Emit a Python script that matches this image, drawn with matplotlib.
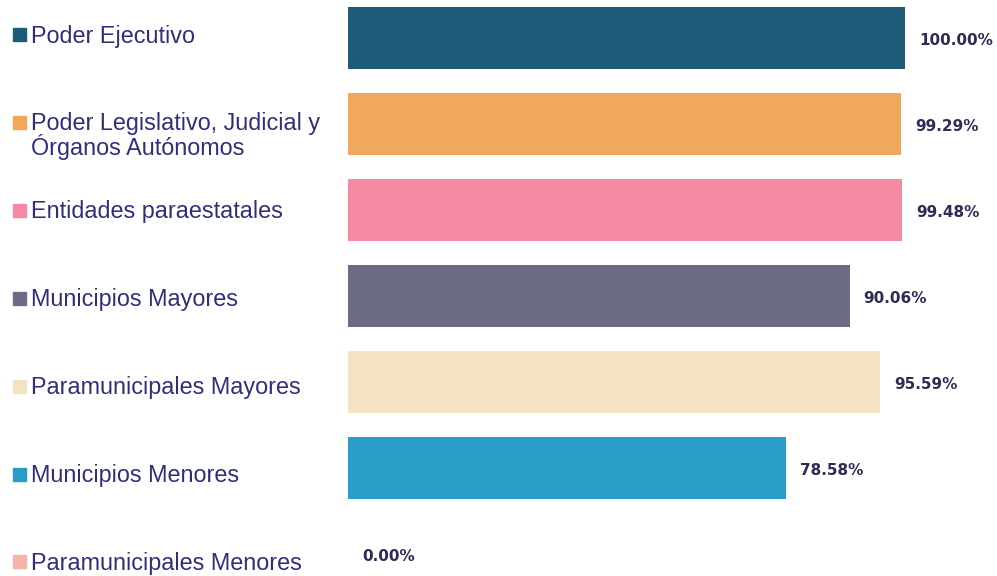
import matplotlib.pyplot as plt

# === Data
categories = [
    "Poder Ejecutivo",
    "Poder Legislativo, Judicial y\nÓrganos Autónomos",
    "Entidades paraestatales",
    "Municipios Mayores",
    "Paramunicipales Mayores",
    "Municipios Menores",
    "Paramunicipales Menores",
]
values = [100.00, 99.29, 99.48, 90.06, 95.59, 78.58, 0.00]
colors = ["#1d5b78", "#f0a85c", "#f48aa3", "#6d6c87", "#f4e2c2", "#2a9dc6", "#f5b2ab"]

W, H = 997, 576
fig = plt.figure(figsize=(W / 100, H / 100), dpi=100)

# bars area: x=0 at 348px, 100% at 905px; bar pitch ~86px starting at 38px
x0, x100 = 348, 905
pitch, first = 86, 38
ax = fig.add_axes([x0 / W, 0, (W - x0) / W, 1])
ax.set_xlim(0, (W - x0) / (x100 - x0) * 100)
ax.set_ylim((H - first) / pitch, -first / pitch)
ax.axis("off")

ypos = list(range(len(values)))
ax.barh(ypos, values, height=0.72, color=colors)

for y, v in zip(ypos, values):
    ax.annotate(f"{v:.2f}%", xy=(v, y), xytext=(10, -2), textcoords="offset points",
                va="center", ha="left", fontsize=11, fontweight="bold",
                color="#2c2c55", family="DejaVu Sans")

# legend-like labels on the left (square + text, first line next to square)
for i, (lab, c) in enumerate(zip(categories, colors)):
    ypx = 34.5 + 87.9 * i
    yf = 1 - ypx / H
    fig.patches.append(plt.Rectangle((13 / W, yf - 6.5 / H), 13 / W, 13 / H,
                                     transform=fig.transFigure, color=c))
    for k, line in enumerate(lab.split("\n")):
        fig.text(31 / W, 1 - (ypx + 8 + 25 * k) / H, line, ha="left", va="baseline",
                 fontsize=16.8, family="Liberation Sans", color="#2e2f7c")

fig.savefig("out.png", dpi=100)
